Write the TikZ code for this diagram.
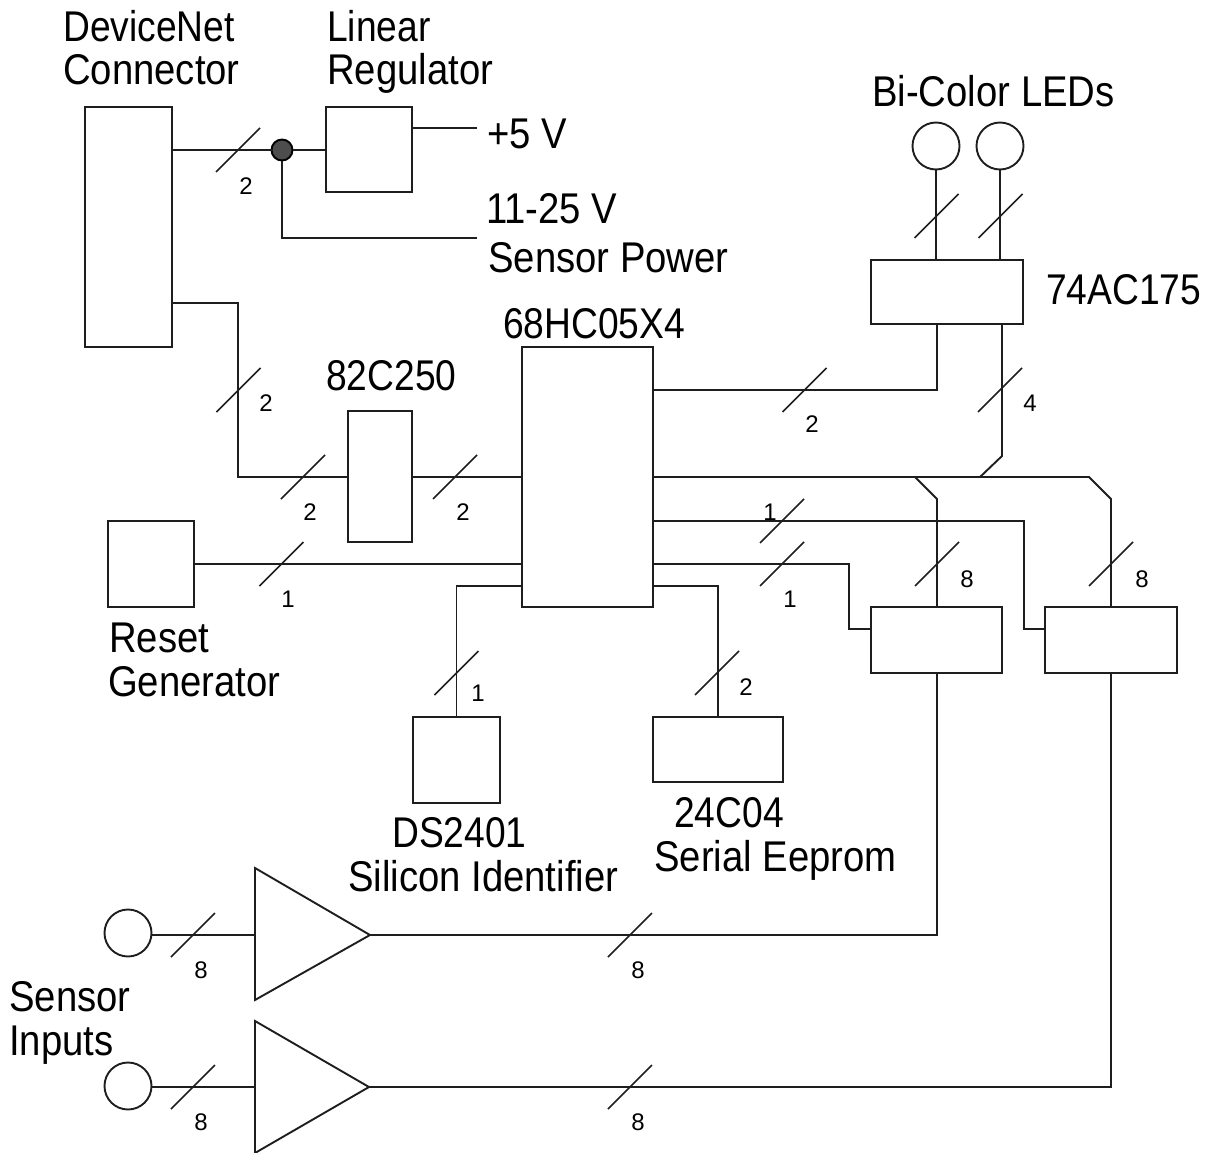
\documentclass[tikz,border=0pt]{standalone}
\usepackage{fontspec}
\setmainfont{Liberation Sans}
\newfontfamily\tallfont[FakeStretch=0.865]{Liberation Sans}
\newfontfamily\tallwidefont[FakeStretch=0.89]{Liberation Sans}
\definecolor{ink}{HTML}{1E1E1E}
\definecolor{dotfill}{HTML}{4D4D4D}
\tikzset{
  x=1pt,y=-1pt,
  wire/.style={draw=ink,line width=1.9pt,line join=miter},
  slashmark/.style={draw=ink,line width=1.6pt},
  blk/.style={draw=ink,line width=1.9pt,rectangle,inner sep=0pt,outer sep=0pt},
  ring/.style={draw=ink,line width=1.9pt,circle,inner sep=0pt,outer sep=0pt,minimum size=47pt},
  junction/.style={draw=black,line width=1.9pt,fill=dotfill,circle,inner sep=0pt,outer sep=0pt,minimum size=21pt},
  biglabel/.style={anchor=base west,inner sep=0pt,text=black,yshift=-1pt,font=\tallfont\fontsize{43}{50}\selectfont},
  widelabel/.style={biglabel,font=\tallwidefont\fontsize{43}{50}\selectfont},
  smalllabel/.style={anchor=center,inner sep=0pt,text=black,font=\fontsize{24}{28}\selectfont},
}
\newcommand{\bustick}[2]{\draw[slashmark] (#1,#2) +(-22,22) -- +(22,-22);}
\begin{document}
\begin{tikzpicture}
\useasboundingbox (0,0) rectangle (1215,1153);
% blocks
\node[blk,minimum width=87pt,minimum height=240pt] (dn) at (128.5,227) {};
\node[blk,minimum width=86pt,minimum height=85pt] (reg) at (369,149.5) {};
\node[ring] (led1) at (936,146) {};
\node[ring] (led2) at (1000,146) {};
\node[blk,minimum width=152pt,minimum height=64pt] (ac) at (947,292) {};
\node[blk,minimum width=131pt,minimum height=260pt] (mcu) at (587.5,477) {};
\node[blk,minimum width=64pt,minimum height=131pt] (can) at (380,476.5) {};
\node[blk,minimum width=86pt,minimum height=86pt] (rst) at (151,564) {};
\node[blk,minimum width=87pt,minimum height=86pt] (ds) at (456.5,760) {};
\node[blk,minimum width=130pt,minimum height=65pt] (eep) at (718,749.5) {};
\node[blk,minimum width=131pt,minimum height=66pt] (bufa) at (936.5,640) {};
\node[blk,minimum width=132pt,minimum height=66pt] (bufb) at (1111,640) {};
\node[ring] (in1) at (128,933) {};
\node[ring] (in2) at (128,1086) {};
\node[junction] (dot) at (282,150) {};
% amplifiers
\coordinate (ampa) at (255,935); \coordinate (ampatip) at (370,935);
\coordinate (ampb) at (255,1087); \coordinate (ampbtip) at (369,1087);
\draw[wire] (255,868) -- (255,1000) -- (ampatip) -- cycle;
\draw[wire] (255,1021) -- (255,1153) -- (ampbtip) -- cycle;
% free ends
\coordinate (fivev) at (477,128);
\coordinate (sensp) at (477,238);
\coordinate (split) at (980,477);
\coordinate (splita) at (915,477);
% connectors
\draw[wire] (dn.east |- 0,150) -- (dot) -- (reg.west |- 0,150);
\draw[wire] (reg.east |- 0,128) -- (fivev);
\draw[wire] (dot) |- (sensp);
\draw[wire] (dn.east |- 0,303) -- (238,303) -- (238,477) -- (can.west |- 0,477);
\draw[wire] (can.east |- 0,477) -- (mcu.west |- 0,477);
\draw[wire] (rst.east |- 0,564) -- (mcu.west |- 0,564);
\draw[wire] (mcu.west |- 0,586) -- (ds.north |- 0,586) -- (ds.north);
\draw[wire] (mcu.east |- 0,586) -- (eep.north |- 0,586) -- (eep.north);
\draw[wire] (led1) -- (led1 |- ac.north);
\draw[wire] (led2) -- (led2 |- ac.north);
\draw[wire] (mcu.east |- 0,390) -- (937,390) -- (937,0 |- ac.south);
\draw[wire] (1002,0 |- ac.south) -- (1002,456) -- (split);
\draw[wire] (mcu.east |- 0,477) -- (1089,477) -- (1111,499) -- (bufb.north);
\draw[wire] (splita) -- (937,499) -- (937,0 |- bufa.north);
\draw[wire] (mcu.east |- 0,521) -- (1024,521) -- (1024,629) -- (bufb.west |- 0,629);
\draw[wire] (mcu.east |- 0,564) -- (849,564) -- (849,629) -- (bufa.west |- 0,629);
\draw[wire] (in1.east |- ampa) -- (ampa);
\draw[wire] (in2.east |- ampb) -- (ampb);
\draw[wire] (ampatip) -- (937,935) -- (937,0 |- bufa.south);
\draw[wire] (ampbtip) -- (bufb.south |- ampbtip) -- (bufb.south);
% bus ticks
\bustick{238}{150}
\bustick{238.5}{390}
\bustick{303}{477}
\bustick{455}{477}
\bustick{281.5}{564}
\bustick{456.5}{673}
\bustick{717}{673}
\bustick{936.5}{216}
\bustick{1000.5}{216}
\bustick{804.5}{390}
\bustick{1000}{390}
\bustick{782}{521}
\bustick{782}{564}
\bustick{937}{564}
\bustick{1111}{564}
\bustick{193}{935}
\bustick{193}{1087}
\bustick{630}{935}
\bustick{630}{1087}
% large labels
\node[biglabel] (t1) at (63,41) {DeviceNet};
\node[widelabel] (t2) at (63,84) {Connector};
\node[biglabel] (t3) at (327,41) {Linear};
\node[widelabel] (t4) at (327,84) {Regulator};
\node[widelabel] (t5) at (487,147) {+5 V};
\node[widelabel] (t6) at (486,222) {11-25 V};
\node[widelabel] (t7) at (488,271) {Sensor Power};
\node[widelabel] (t8) at (872,106) {Bi-Color LEDs};
\node[biglabel] (t9) at (1046,303) {74AC175};
\node[biglabel] (t10) at (503,337) {68HC05X4};
\node[biglabel] (t11) at (326,389) {82C250};
\node[widelabel] (t12) at (109,651) {Reset};
\node[widelabel] (t13) at (108,695) {Generator};
\node[biglabel] (t14) at (392,846) {DS2401};
\node[widelabel] (t15) at (348,890) {Silicon Identifier};
\node[biglabel] (t16) at (674,826) {24C04};
\node[widelabel] (t17) at (654,870) {Serial Eeprom};
\node[widelabel] (t18) at (9,1010) {Sensor};
\node[widelabel] (t19) at (9,1054) {Inputs};
% bus widths
\node[smalllabel] (w1) at (246,186) {2};
\node[smalllabel] (w2) at (266,403) {2};
\node[smalllabel] (w3) at (310,512) {2};
\node[smalllabel] (w4) at (463,512) {2};
\node[smalllabel] (w5) at (288,599) {1};
\node[smalllabel] (w6) at (478,693) {1};
\node[smalllabel] (w7) at (746,687) {2};
\node[smalllabel] (w8) at (812,424) {2};
\node[smalllabel] (w9) at (1030,403) {4};
\node[smalllabel] (w10) at (770,512) {1};
\node[smalllabel] (w11) at (790,599) {1};
\node[smalllabel] (w12) at (967,579) {8};
\node[smalllabel] (w13) at (1142,579) {8};
\node[smalllabel] (w14) at (201,970) {8};
\node[smalllabel] (w15) at (638,970) {8};
\node[smalllabel] (w16) at (201,1122) {8};
\node[smalllabel] (w17) at (638,1122) {8};
\end{tikzpicture}
\end{document}
